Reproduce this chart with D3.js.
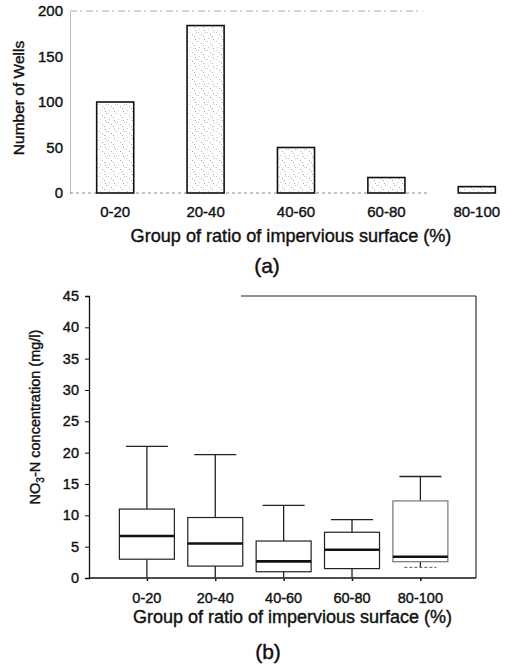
<!DOCTYPE html>
<html>
<head>
<meta charset="utf-8">
<script src="https://cdn.jsdelivr.net/npm/d3@7"></script>
<style>
  html, body { margin: 0; padding: 0; background: #fff; }
  svg { display: block; font-family: "Liberation Sans", Arial, sans-serif; }
  svg text { stroke: #111; stroke-width: 0.4px; fill: #111; }
</style>
</head>
<body>
<svg id="chart" width="519" height="667"></svg>
<script>
// ---- Data ----
const categories = ["0-20", "20-40", "40-60", "60-80", "80-100"];
const wellCounts = [100, 184, 50, 17, 7];
const wellTicks = [0, 50, 100, 150, 200];

const whiskerLow  = [0, 0, 0, 0, 1.7];
const quartile1   = [3.0, 1.9, 1.0, 1.5, 2.6];
const medians     = [6.7, 5.5, 2.65, 4.5, 3.4];
const quartile3   = [11.0, 9.65, 5.9, 7.3, 12.3];
const whiskerHigh = [21.0, 19.7, 11.6, 9.3, 16.2];
const concTicks = [0, 5, 10, 15, 20, 25, 30, 35, 40, 45];

const xTitle = "Group of ratio of impervious surface (%)";

const svg = d3.select("#chart");
const FONT = "'Liberation Sans', Arial, sans-serif";

// pattern for speckled bar fill
const defs = svg.append("defs");
const pat = defs.append("pattern").attr("id", "speckle")
  .attr("width", 9).attr("height", 9).attr("patternUnits", "userSpaceOnUse");
pat.append("rect").attr("width", 9).attr("height", 9).attr("fill", "#fff");
[[1,2],[5,0],[7,5],[3,7],[0,5],[6,3]].forEach(([x, y], i) => {
  pat.append("rect").attr("x", x).attr("y", y).attr("width", 1).attr("height", 1)
    .attr("fill", i % 2 ? "#aaa" : "#c8c8c8");
});

// ================= Panel (a) =================
const ga = svg.append("g");
const xa = d3.scaleBand().domain(categories).range([70, 522])
  .paddingInner(0.59).paddingOuter(0.295);
const ya = d3.scaleLinear().domain([0, 200]).range([193, 11]);

ga.append("line").attr("x1", 70).attr("x2", 423).attr("y1", ya(200)).attr("y2", ya(200))
  .attr("stroke", "#aaa").attr("stroke-width", 1).attr("stroke-dasharray", "7,3,2,4");
ga.append("line").attr("x1", 70).attr("x2", 430).attr("y1", ya(0)).attr("y2", ya(0))
  .attr("stroke", "#888").attr("stroke-width", 1).attr("stroke-dasharray", "3,3");

const yAxisA = ga.append("g").attr("transform", "translate(70,0)")
  .call(d3.axisLeft(ya).tickValues(wellTicks).tickSize(0).tickPadding(7));
yAxisA.attr("font-family", FONT);
yAxisA.select(".domain").attr("stroke", "#777").attr("stroke-dasharray", "1,1");
yAxisA.selectAll("text").style("font-size", "15px");

ga.selectAll("rect.bar").data(categories).join("rect").attr("class", "bar")
  .attr("x", d => xa(d)).attr("width", xa.bandwidth())
  .attr("y", (d, i) => ya(wellCounts[i]))
  .attr("height", (d, i) => ya(0) - ya(wellCounts[i]))
  .attr("fill", "url(#speckle)").attr("stroke", "#111").attr("stroke-width", 1.6);

ga.selectAll("text.cat").data(categories).join("text").attr("class", "cat")
  .attr("x", d => xa(d) + xa.bandwidth() / 2).attr("y", 216.5)
  .attr("text-anchor", "middle").style("font-size", "15px")
  .text(d => d);

ga.append("text").attr("x", 291).attr("y", 242).attr("text-anchor", "middle")
  .style("font-size", "18.1px").text(xTitle);

ga.append("text").attr("x", 267).attr("y", 273).attr("text-anchor", "middle")
  .style("font-size", "21px").text("(a)");

ga.append("text").attr("transform", "translate(23.5,98) rotate(-90)")
  .attr("text-anchor", "middle").style("font-size", "15.5px").text("Number of Wells");

// ================= Panel (b) =================
const gb = svg.append("g");
const xb = d3.scalePoint().domain(categories).range([89, 476]).padding(0.83).align(0.51);
const yb = d3.scaleLinear().domain([0, 45]).range([578, 296]);
const boxW = 55, capW = 42;

gb.append("line").attr("x1", 241).attr("x2", 476).attr("y1", yb(45)).attr("y2", yb(45))
  .attr("stroke", "#222").attr("stroke-width", 1.2);
gb.append("line").attr("x1", 476).attr("x2", 476).attr("y1", yb(45)).attr("y2", yb(0))
  .attr("stroke", "#333").attr("stroke-width", 1.2);

const yAxisB = gb.append("g").attr("transform", "translate(89,0)")
  .call(d3.axisLeft(yb).tickValues(concTicks).tickSize(4).tickPadding(6));
yAxisB.attr("font-family", FONT);
yAxisB.select(".domain").attr("stroke", "#111").attr("stroke-width", 1.3);
yAxisB.selectAll(".tick line").attr("stroke", "#111");
yAxisB.selectAll("text").style("font-size", "14.5px");

const xAxisB = gb.append("g").attr("transform", "translate(0," + yb(0) + ")")
  .call(d3.axisBottom(xb).tickSize(3).tickPadding(12));
xAxisB.select(".domain").attr("stroke", "#111").attr("stroke-width", 1.3)
  .attr("d", "M89,0H476");
xAxisB.selectAll(".tick line").attr("stroke", "#111").attr("stroke-width", 1.5);
xAxisB.selectAll("text").remove();

const boxes = gb.selectAll("g.box").data(categories).join("g").attr("class", "box")
  .attr("transform", d => "translate(" + xb(d) + ",0)");
boxes.append("line").attr("x1", 0).attr("x2", 0)
  .attr("y1", (d, i) => yb(whiskerHigh[i])).attr("y2", (d, i) => yb(quartile3[i]))
  .attr("stroke", "#222").attr("stroke-width", 1.3);
boxes.append("line").attr("x1", 0).attr("x2", 0)
  .attr("y1", (d, i) => yb(quartile1[i])).attr("y2", (d, i) => yb(whiskerLow[i]))
  .attr("stroke", "#222").attr("stroke-width", 1.3);
boxes.append("line").attr("x1", -capW / 2).attr("x2", capW / 2)
  .attr("y1", (d, i) => yb(whiskerHigh[i])).attr("y2", (d, i) => yb(whiskerHigh[i]))
  .attr("stroke", "#222").attr("stroke-width", 1.3);
boxes.append("line").attr("x1", -capW / 2 + 5).attr("x2", capW / 2 - 5)
  .attr("y1", (d, i) => yb(whiskerLow[i])).attr("y2", (d, i) => yb(whiskerLow[i]))
  .attr("stroke", "#555").attr("stroke-width", 1)
  .attr("stroke-dasharray", "3,2");
boxes.append("rect").attr("x", -boxW / 2).attr("width", boxW)
  .attr("y", (d, i) => yb(quartile3[i]))
  .attr("height", (d, i) => yb(quartile1[i]) - yb(quartile3[i]))
  .attr("fill", "#fff").attr("stroke", (d, i) => i === 4 ? "#777" : "#222")
  .attr("stroke-width", 1.2);
boxes.append("line").attr("x1", -boxW / 2).attr("x2", boxW / 2)
  .attr("y1", (d, i) => yb(medians[i])).attr("y2", (d, i) => yb(medians[i]))
  .attr("stroke", "#111").attr("stroke-width", 2.6);

gb.selectAll("text.cat").data(categories).join("text").attr("class", "cat")
  .attr("x", d => xb(d)).attr("y", 603)
  .attr("text-anchor", "middle").style("font-size", "14.5px")
  .text(d => d);

gb.append("text").attr("x", 292.5).attr("y", 623).attr("text-anchor", "middle")
  .style("font-size", "18px").text(xTitle);

gb.append("text").attr("x", 268).attr("y", 659).attr("text-anchor", "middle")
  .style("font-size", "21px").text("(b)");

const ylb = gb.append("text").attr("transform", "translate(40,417) rotate(-90)")
  .attr("text-anchor", "middle").style("font-size", "14.5px");
ylb.append("tspan").text("NO");
ylb.append("tspan").attr("dy", 4).style("font-size", "10px").text("3");
ylb.append("tspan").attr("dy", -4).text("-N concentration (mg/l)");
</script>
</body>
</html>
